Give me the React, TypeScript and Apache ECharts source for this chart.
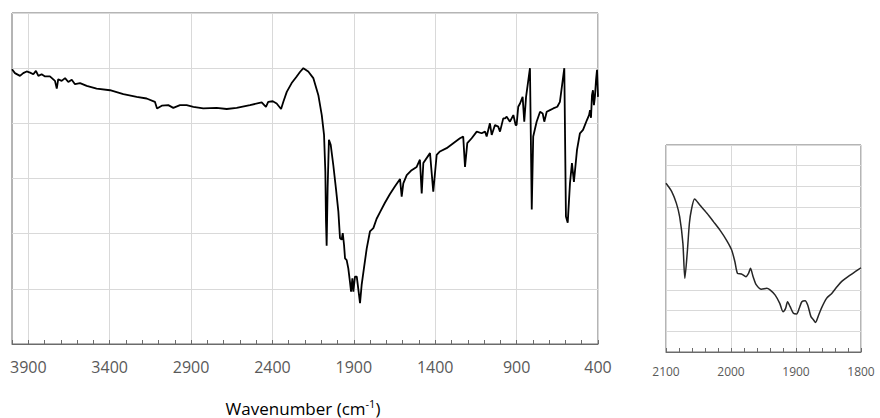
import React, { useEffect, useRef } from 'react';
import * as echarts from 'echarts';

const mainWavenumber = [
  4000, 3982, 3951, 3931, 3910, 3889, 3869, 3853, 3838, 3818, 3797, 3767, 3736, 3725, 3716, 3695,
  3674, 3654, 3633, 3613, 3582, 3541, 3480, 3398, 3316, 3234, 3173, 3122, 3109, 3080, 3040, 3009,
  2968, 2927, 2886, 2825, 2743, 2681, 2620, 2538, 2466, 2440, 2426, 2398, 2374, 2347, 2333, 2312,
  2282, 2251, 2231, 2210, 2180, 2149, 2118, 2097, 2083, 2075, 2071, 2067, 2061, 2053, 2042, 2026,
  2010, 1995, 1985, 1975, 1968, 1960, 1954, 1944, 1934, 1924, 1917, 1909, 1903, 1893, 1882, 1873,
  1862, 1852, 1838, 1821, 1801, 1780, 1760, 1739, 1709, 1678, 1647, 1616, 1606, 1596, 1575, 1545, 1514, 1494,
  1483, 1473, 1432, 1412, 1391, 1371, 1330, 1289, 1248, 1228, 1217, 1203, 1176, 1145, 1115, 1094,
  1084, 1064, 1053, 1033, 1013, 1002, 982, 971, 961, 941, 920, 906, 900, 890, 879, 863, 853, 842,
  818, 807, 798, 777, 756, 740, 730, 715, 695, 675, 650, 634, 607, 597, 586, 572, 560, 548, 529,
  511, 492, 468, 455, 449, 443, 437, 431, 425, 419, 412, 406, 400,
];
const mainSignal = [
  4.98, 4.91, 4.86, 4.91, 4.94, 4.92, 4.89, 4.95, 4.86, 4.89, 4.85, 4.85, 4.77, 4.63, 4.8, 4.77,
  4.82, 4.75, 4.79, 4.71, 4.73, 4.68, 4.63, 4.6, 4.53, 4.48, 4.45, 4.39, 4.27, 4.32, 4.33, 4.28,
  4.33, 4.33, 4.3, 4.27, 4.28, 4.26, 4.28, 4.33, 4.38, 4.3, 4.39, 4.4, 4.36, 4.26, 4.39, 4.57,
  4.73, 4.85, 4.93, 5.0, 4.94, 4.82, 4.51, 4.15, 3.79, 3.12, 2.22, 1.78, 2.82, 3.7, 3.61, 3.24,
  2.82, 2.4, 1.92, 1.89, 2.01, 1.79, 1.55, 1.52, 1.37, 1.13, 0.95, 1.19, 0.95, 1.22, 1.22, 1.01,
  0.74, 1.07, 1.37, 1.73, 2.04, 2.1, 2.27, 2.39, 2.56, 2.72, 2.86, 2.99, 2.67, 2.91, 3.06, 3.15, 3.21, 3.34,
  2.73, 3.28, 3.46, 2.76, 3.43, 3.49, 3.55, 3.64, 3.73, 3.76, 3.21, 3.64, 3.73, 3.85, 3.82, 3.85,
  3.76, 4.0, 3.79, 3.97, 3.94, 3.85, 4.09, 4.09, 4.12, 4.03, 4.15, 3.97, 3.97, 4.3, 4.36, 4.48, 4.03, 4.48,
  5.0, 2.44, 3.76, 4.03, 4.21, 4.18, 4.03, 4.21, 4.24, 4.27, 4.3, 4.39, 5.0, 2.31, 2.2, 2.92, 3.28, 2.94, 3.52,
  3.82, 3.88, 4.06, 4.15, 4.24, 4.1, 4.51, 4.6, 4.33, 4.48, 4.79, 4.97, 4.48,
];

const insetWavenumber = [
  2100, 2091, 2084, 2079, 2074, 2071, 2067, 2064, 2061, 2056, 2048, 2037, 2027, 2017, 2007, 1999,
  1994, 1990, 1984, 1977, 1973, 1970, 1966, 1961, 1953, 1945, 1940, 1932, 1925, 1920, 1916, 1913,
  1909, 1904, 1899, 1895, 1891, 1886, 1882, 1877, 1873, 1870, 1866, 1861, 1853, 1845, 1837, 1830,
  1820, 1809, 1800,
];
const insetSignal = [
  8.15, 7.74, 7.18, 6.54, 5.25, 3.56, 4.93, 6.22, 6.86, 7.39, 7.1, 6.7, 6.3, 5.89, 5.41, 4.93,
  4.36, 3.8, 3.77, 3.64, 3.8, 4.04, 3.64, 3.24, 3.03, 3.08, 3.0, 2.75, 2.35, 1.95, 2.11, 2.43,
  2.19, 1.87, 1.84, 2.11, 2.43, 2.48, 2.27, 1.71, 1.55, 1.43, 1.71, 2.11, 2.59, 2.83, 3.15, 3.4,
  3.64, 3.88, 4.07,
];

const mainTickLabels = [3900, 3400, 2900, 2400, 1900, 1400, 900, 400];
const insetTickLabels = [2100, 2000, 1900, 1800];
const axisTitleMain = 'Wavenumber (cm';
const axisTitleSup = '-1';

export default function App() {
  const ref = useRef<HTMLDivElement>(null);
  useEffect(() => {
    if (!ref.current) return;
    const chart = echarts.init(ref.current, null, { renderer: 'svg' });
    const gridLine = '#d9d9d9';
    const frame = '#6b6b6b';
    const labelColor = '#595959';
    const font = 'Open Sans';
    const T = 'transparent';
    chart.setOption({
      animation: false,
      grid: [
        { left: 12, top: 13, width: 586, height: 331, show: true, borderColor: frame, borderWidth: 1 },
        { left: 666, top: 145, width: 195, height: 207, show: true, borderColor: frame, borderWidth: 1 },
      ],
      xAxis: [
        {
          type: 'value', gridIndex: 0, min: 400, max: 4000, interval: 100, inverse: true,
          axisLine: { show: true, lineStyle: { color: frame } },
          axisTick: { show: true, inside: true, length: 4, lineStyle: { color: frame } },
          axisLabel: {
            margin: 15, fontSize: 16, color: labelColor, fontFamily: font,
            formatter: (v: number) => (mainTickLabels.includes(v) ? String(v) : ''),
          },
          splitLine: { show: true, lineStyle: { color: [gridLine, T, T, T, T], width: 1 } },
        },
        {
          type: 'value', gridIndex: 1, min: 1800, max: 2100, interval: 20, inverse: true,
          axisLine: { show: true, lineStyle: { color: frame } },
          axisTick: { show: true, inside: true, length: 4, lineStyle: { color: frame } },
          axisLabel: {
            margin: 13, fontSize: 12, color: labelColor, fontFamily: font,
            formatter: (v: number) => (insetTickLabels.includes(v) ? String(v) : ''),
          },
          splitLine: { show: true, lineStyle: { color: [gridLine, T, T, T, T], width: 1 } },
        },
      ],
      yAxis: [
        {
          type: 'value', gridIndex: 0, min: 0, max: 6, interval: 1,
          axisLine: { show: false }, axisTick: { show: false }, axisLabel: { show: false },
          splitLine: { show: true, lineStyle: { color: gridLine } },
        },
        {
          type: 'value', gridIndex: 1, min: 0, max: 10, interval: 1,
          axisLine: { show: false }, axisTick: { show: false }, axisLabel: { show: false },
          splitLine: { show: true, lineStyle: { color: gridLine } },
        },
      ],
      series: [
        {
          type: 'line', xAxisIndex: 0, yAxisIndex: 0, showSymbol: false, silent: true,
          data: mainWavenumber.map((w, i) => [w, mainSignal[i]]),
          lineStyle: { color: '#000000', width: 1.8 },
        },
        {
          type: 'line', xAxisIndex: 1, yAxisIndex: 1, showSymbol: false, silent: true, smooth: 0.25,
          data: insetWavenumber.map((w, i) => [w, insetSignal[i]]),
          lineStyle: { color: '#262626', width: 1.5 },
        },
      ],
      graphic: [
        {
          type: 'text', x: 303, y: 408,
          style: {
            text: `{a|${axisTitleMain}}{b|${axisTitleSup}}{a|)}`,
            align: 'center', verticalAlign: 'middle',
            rich: {
              a: { fontSize: 17, fontFamily: font, fill: '#000000', color: '#000000' },
              b: { fontSize: 11, fontFamily: font, fill: '#000000', color: '#000000', padding: [0, 0, 10, 0] },
            },
          },
        },
      ],
    });
    return () => chart.dispose();
  }, []);
  return <div ref={ref} style={{ position: 'absolute', left: 0, top: 0, width: 880, height: 418 }} />;
}
